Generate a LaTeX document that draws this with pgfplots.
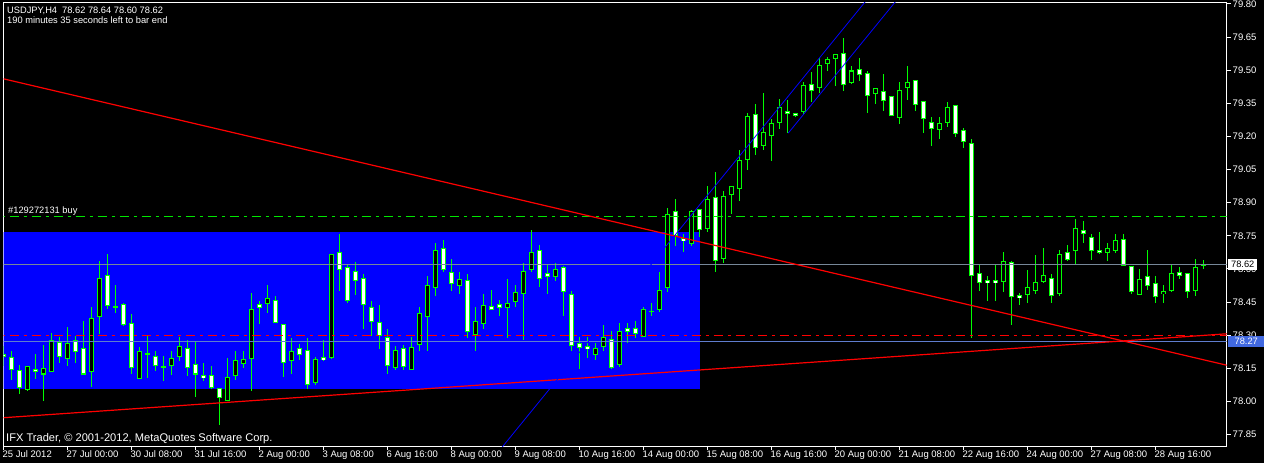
\documentclass[border=0pt]{standalone}
\usepackage{fontspec}
\setmainfont{Liberation Sans}
\usepackage{pgfplots}
\usepackage{pgfplotstable}
\pgfplotsset{compat=1.18}

\definecolor{mtgreen}{RGB}{0,255,0}
\definecolor{dashgreen}{RGB}{0,230,0}
\definecolor{rectblue}{RGB}{0,0,255}
\definecolor{bidgray}{RGB}{119,136,153}
\definecolor{lvlblue}{RGB}{95,125,205}
\definecolor{boxblue}{RGB}{65,105,225}

% H4 bars: index, open, high, low, close
\pgfplotstableread{
i o h l c
0 78.215 78.250 78.162 78.206
1 78.199 78.230 78.097 78.146
2 78.140 78.167 78.037 78.064
3 78.055 78.162 78.050 78.158
4 78.147 78.217 78.103 78.138
5 78.125 78.258 78.004 78.149
6 78.137 78.309 78.135 78.279
7 78.267 78.291 78.173 78.206
8 78.197 78.339 78.162 78.265
9 78.279 78.298 78.173 78.229
10 78.239 78.366 78.122 78.125
11 78.137 78.430 78.064 78.378
12 78.386 78.638 78.306 78.555
13 78.569 78.671 78.418 78.437
14 78.430 78.529 78.404 78.430
15 78.437 78.448 78.345 78.347
16 78.356 78.397 78.122 78.156
17 78.105 78.248 78.103 78.229
18 78.215 78.298 78.105 78.215
19 78.206 78.230 78.137 78.165
20 78.158 78.206 78.094 78.158
21 78.165 78.230 78.123 78.197
22 78.206 78.291 78.185 78.249
23 78.239 78.279 78.116 78.156
24 78.167 78.268 78.022 78.125
25 78.116 78.176 78.094 78.107
26 78.116 78.159 78.055 78.064
27 78.057 78.059 77.895 78.016
28 78.007 78.199 78.004 78.107
29 78.116 78.230 78.096 78.188
30 78.173 78.229 78.155 78.188
31 78.197 78.489 78.045 78.419
32 78.437 78.457 78.351 78.427
33 78.446 78.529 78.404 78.469
34 78.457 78.480 78.354 78.356
35 78.347 78.349 78.114 78.175
36 78.188 78.289 78.123 78.229
37 78.238 78.258 78.188 78.215
38 78.229 78.289 78.055 78.076
39 78.087 78.200 78.076 78.188
40 78.197 78.279 78.185 78.188
41 78.197 78.668 78.195 78.668
42 78.677 78.759 78.502 78.596
43 78.609 78.623 78.445 78.457
44 78.587 78.630 78.484 78.546
45 78.555 78.575 78.329 78.437
46 78.427 78.457 78.298 78.365
47 78.356 78.439 78.238 78.297
48 78.288 78.330 78.125 78.165
49 78.156 78.252 78.144 78.229
50 78.238 78.258 78.144 78.156
51 78.146 78.291 78.144 78.247
52 78.256 78.430 78.227 78.397
53 78.387 78.570 78.227 78.528
54 78.517 78.720 78.477 78.686
55 78.695 78.729 78.587 78.596
56 78.587 78.647 78.502 78.537
57 78.528 78.585 78.486 78.555
58 78.546 78.578 78.288 78.315
59 78.306 78.430 78.227 78.365
60 78.356 78.487 78.329 78.437
61 78.428 78.507 78.416 78.418
62 78.437 78.458 78.386 78.427
63 78.427 78.555 78.288 78.446
64 78.455 78.529 78.427 78.496
65 78.487 78.629 78.277 78.587
66 78.596 78.779 78.587 78.677
67 78.686 78.711 78.517 78.555
68 78.578 78.618 78.487 78.567
69 78.567 78.629 78.548 78.596
70 78.609 78.611 78.387 78.498
71 78.487 78.499 78.227 78.256
72 78.265 78.291 78.147 78.247
73 78.247 78.291 78.197 78.238
74 78.215 78.267 78.188 78.238
75 78.247 78.348 78.227 78.288
76 78.279 78.318 78.147 78.156
77 78.165 78.357 78.156 78.315
78 78.329 78.357 78.265 78.315
79 78.329 78.366 78.288 78.306
80 78.297 78.430 78.295 78.419
81 78.409 78.448 78.387 78.409
82 78.418 78.588 78.404 78.505
83 78.517 78.877 78.495 78.849
84 78.859 78.916 78.706 78.751
85 78.738 78.759 78.676 78.727
86 78.717 78.868 78.706 78.859
87 78.868 78.870 78.744 78.777
88 78.785 78.978 78.766 78.917
89 78.926 79.040 78.585 78.637
90 78.646 78.952 78.626 78.927
91 78.936 78.978 78.849 78.976
92 78.966 79.139 78.907 79.090
93 79.097 79.308 79.049 79.290
94 79.298 79.348 79.115 79.150
95 79.158 79.399 79.138 79.216
96 79.206 79.280 79.090 79.257
97 79.265 79.369 79.235 79.330
98 79.316 79.367 79.216 79.307
99 79.307 79.309 79.287 79.298
100 79.315 79.449 79.302 79.429
101 79.438 79.490 79.358 79.408
102 79.420 79.556 79.396 79.520
103 79.529 79.559 79.496 79.547
104 79.556 79.574 79.429 79.570
105 79.579 79.648 79.405 79.438
106 79.446 79.520 79.437 79.497
107 79.506 79.558 79.453 79.481
108 79.488 79.499 79.307 79.388
109 79.396 79.422 79.348 79.420
110 79.407 79.481 79.315 79.366
111 79.380 79.382 79.293 79.298
112 79.289 79.449 79.257 79.407
113 79.420 79.521 79.363 79.447
114 79.456 79.458 79.316 79.348
115 79.357 79.359 79.216 79.280
116 79.266 79.289 79.156 79.239
117 79.230 79.290 79.189 79.257
118 79.266 79.358 79.242 79.330
119 79.339 79.341 79.197 79.216
120 79.230 79.239 79.147 79.176
121 79.167 79.191 78.288 78.569
122 78.578 78.620 78.502 78.537
123 78.547 78.569 78.454 78.537
124 78.547 78.620 78.454 78.537
125 78.546 78.679 78.495 78.637
126 78.628 78.638 78.347 78.478
127 78.480 78.490 78.436 78.469
128 78.487 78.597 78.445 78.519
129 78.504 78.661 78.487 78.537
130 78.544 78.697 78.537 78.570
131 78.555 78.578 78.445 78.478
132 78.487 78.688 78.477 78.668
133 78.677 78.711 78.638 78.644
134 78.686 78.828 78.620 78.786
135 78.777 78.819 78.718 78.760
136 78.744 78.759 78.643 78.686
137 78.686 78.769 78.668 78.676
138 78.676 78.720 78.635 78.695
139 78.686 78.760 78.673 78.729
140 78.736 78.760 78.618 78.618
141 78.611 78.613 78.487 78.498
142 78.487 78.597 78.480 78.555
143 78.569 78.688 78.504 78.526
144 78.537 78.570 78.445 78.478
145 78.487 78.529 78.445 78.499
146 78.504 78.620 78.495 78.578
147 78.587 78.611 78.554 78.569
148 78.578 78.580 78.467 78.496
149 78.504 78.647 78.477 78.609
150 78.620 78.640 78.600 78.620
}\candles

\pgfplotsset{
  candlepart/.style={forget plot, only marks, mark=text, text mark={},
    error bars/.cd, y dir=both, y explicit, error mark=none},
}

\begin{document}
\begin{tikzpicture}
\fill[black] (-3pt,-17pt) rectangle (1261pt,446pt);
\useasboundingbox (-3pt,-17pt) rectangle (1261pt,446pt);
\begin{axis}[
  at={(0.5pt,-0.5pt)}, anchor=south west,
  width=1223pt, height=444pt, scale only axis,
  xmin=0, xmax=152.875, ymin=77.7956, ymax=79.8068,
  axis line style={white, line width=1pt},
  xtick pos=left, ytick pos=right,
  xticklabel pos=left, yticklabel pos=right,
  tick align=outside, major tick length=4pt,
  tick style={white, line width=1pt},
  xtick={0,8,...,144},
  xticklabels={25 Jul 2012,27 Jul 00:00,30 Jul 08:00,31 Jul 16:00,2 Aug 00:00,3 Aug 08:00,6 Aug 16:00,8 Aug 00:00,9 Aug 08:00,10 Aug 16:00,14 Aug 00:00,15 Aug 08:00,16 Aug 16:00,20 Aug 00:00,21 Aug 08:00,22 Aug 16:00,24 Aug 00:00,27 Aug 08:00,28 Aug 16:00},
  ytick={77.85,78.00,78.15,78.30,78.45,78.60,78.75,78.90,79.05,79.20,79.35,79.50,79.65,79.80},
  yticklabels={77.85,78.00,78.15,78.30,78.45,78.60,78.75,78.90,79.05,79.20,79.35,79.50,79.65,79.80},
  tick label style={font=\fontsize{9.5}{11}\selectfont, text=white, inner sep=0pt},
  xticklabel style={anchor=north west, xshift=-1pt},
  yticklabel style={anchor=west, xshift=2pt},
]
% blue rectangle object
\addplot[draw=none, fill=rectblue, forget plot] coordinates {(-2,78.054) (87,78.054) (87,78.765) (-2,78.765)};

% wicks
\addplot[mtgreen, candlepart, error bar style={draw=mtgreen, line width=1pt}]
  table[x=i, y expr={(\thisrow{h}+\thisrow{l})/2}, y error expr={(\thisrow{h}-\thisrow{l})/2}] {\candles};
% body outlines
\addplot[mtgreen, candlepart, error bar style={draw=mtgreen, line width=5pt}]
  table[x=i, y expr={(\thisrow{o}+\thisrow{c})/2}, y error expr={abs(\thisrow{o}-\thisrow{c})/2+0.00227}] {\candles};
% bull bodies (black)
\addplot[black, restrict expr to domain={\thisrow{c}-\thisrow{o}}{0.006:10}, candlepart,
  error bar style={draw=black, line width=3pt}]
  table[x=i, y expr={(\thisrow{o}+\thisrow{c})/2}, y error expr={abs(\thisrow{o}-\thisrow{c})/2-0.00227}] {\candles};
% bear bodies (white)
\addplot[white, restrict expr to domain={\thisrow{o}-\thisrow{c}}{0.006:10}, candlepart,
  error bar style={draw=white, line width=3pt}]
  table[x=i, y expr={(\thisrow{o}+\thisrow{c})/2}, y error expr={abs(\thisrow{o}-\thisrow{c})/2-0.00227}] {\candles};

% horizontal levels
\addplot[bidgray, line width=1pt] coordinates {(-2,78.62) (155,78.62)};
\addplot[lvlblue, line width=1pt] coordinates {(-2,78.2715) (155,78.2715)};
\addplot[red, line width=1pt, dash pattern=on 9pt off 5pt on 3pt off 5pt] coordinates {(-2,78.30) (155,78.30)};
\addplot[dashgreen, line width=1pt, dash pattern=on 9pt off 5pt on 3pt off 5pt] coordinates {(-2,78.8376) (155,78.8376)};

% trend lines
\addplot[red, line width=1.2pt] coordinates {(-1,79.4695) (154,78.1545)};
\addplot[red, line width=1.2pt] coordinates {(-1,77.9235) (154,78.3088)};
% channel
\addplot[blue, line width=0.8pt] coordinates {(62,77.778) (108.5,79.845)};
\addplot[blue, line width=0.8pt] coordinates {(98.09,79.215) (112,79.833)};

\coordinate (bid) at (axis cs:152.875,78.62);
\coordinate (lvl) at (axis cs:152.875,78.2715);
\end{axis}

\begin{scope}[every node/.style={text=white, inner sep=0pt, font=\fontsize{9.3}{11}\selectfont}]
\node[anchor=base west] at (4pt,432pt) {USDJPY,H4\hspace{5pt}78.62 78.64 78.60 78.62};
\node[anchor=base west] at (4pt,422pt) {190 minutes 35 seconds left to bar end};
\node[anchor=base west] at (5pt,232pt) {\#129272131 buy};
\node[anchor=base west, font=\fontsize{11.1}{13}\selectfont] at (3pt,4pt) {IFX Trader, © 2001-2012, MetaQuotes Software Corp.};
\node[anchor=west, fill=white, text=black, minimum width=29pt, minimum height=11pt] at ([xshift=1.5pt]bid) {78.62};
\node[anchor=west, fill=boxblue, text=white, minimum width=36pt, minimum height=11pt] at ([xshift=1.5pt]lvl) {78.27};
\end{scope}
\end{tikzpicture}
\end{document}
